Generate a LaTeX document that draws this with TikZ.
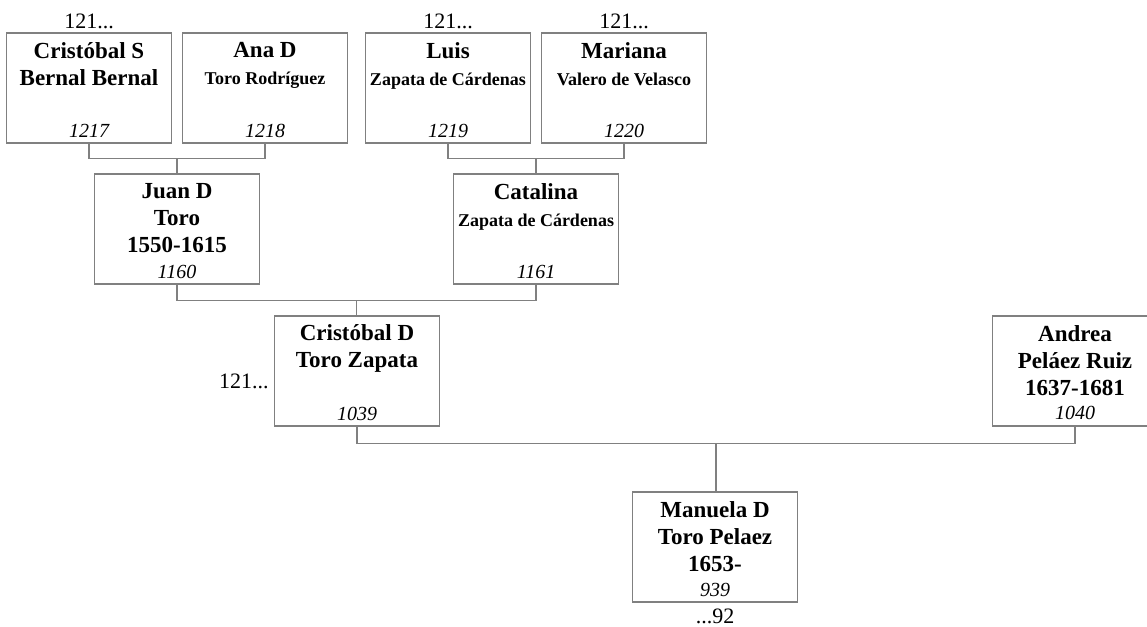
\documentclass[tikz,border=0pt]{standalone}
\usepackage{fontspec}
\setmainfont{Liberation Serif}
\usetikzlibrary{positioning, calc}

\definecolor{framegray}{RGB}{128,128,128}
\newcommand{\namefont}{\fontsize{23}{27}\bfseries\selectfont}
\newcommand{\surfont}{\fontsize{18}{25}\bfseries\selectfont}
\newcommand{\idfont}{\fontsize{20}{22}\itshape\selectfont}
\newcommand{\morefont}{\fontsize{22}{24}\selectfont}

\begin{document}
\begin{tikzpicture}[x=1pt, y=-1pt,
    person/.style={draw=framegray, line width=1.3pt, minimum width=165pt, minimum height=110pt, inner sep=0pt},
    pname/.style={font=\namefont, align=center, anchor=north, inner sep=0pt},
    pid/.style={font=\idfont, anchor=base, inner sep=0pt},
    more/.style={font=\morefont, inner sep=0pt},
    link/.style={draw=framegray, line width=1.3pt}]
    \useasboundingbox (0,0) rectangle (1147,626);

    % great-grandparents
    \node[person] (p1217) at (89,88) {};
    \node[person] (p1218) at (265,88) {};
    \node[person] (p1219) at (448,88) {};
    \node[person] (p1220) at (624,88) {};
    % grandparents
    \node[person] (p1160) at (177,229) {};
    \node[person] (p1161) at (536,229) {};
    % parents
    \node[person] (p1039) at (357,371) {};
    \node[person] (p1040) at (1075,371) {};
    % child
    \node[person] (p939) at (715,547) {};

    % names
    \node[pname, below=10pt of p1217.north] (n1217) {Cristóbal S\\Bernal Bernal};
    \node[pname, below=10pt of p1218.north] (n1218) {Ana D\\{\surfont Toro Rodríguez}};
    \node[pname, below=10pt of p1219.north] (n1219) {Luis\\{\surfont Zapata de Cárdenas}};
    \node[pname, below=10pt of p1220.north] (n1220) {Mariana\\{\surfont Valero de Velasco}};
    \node[pname, below=10pt of p1160.north] (n1160) {Juan D\\Toro\\1550-1615};
    \node[pname, below=10pt of p1161.north] (n1161) {Catalina\\{\surfont Zapata de Cárdenas}};
    \node[pname, below=9pt of p1039.north] (n1039) {Cristóbal D\\Toro Zapata};
    \node[pname, below=10pt of p1040.north] (n1040) {Andrea\\Peláez Ruiz\\1637-1681};
    \node[pname, below=10pt of p939.north] (n939) {Manuela D\\Toro Pelaez\\1653-};

    % numbers
    \node[pid] (i1217) at ($(p1217.south)+(0,-6)$) {1217};
    \node[pid] (i1218) at ($(p1218.south)+(0,-6)$) {1218};
    \node[pid] (i1219) at ($(p1219.south)+(0,-6)$) {1219};
    \node[pid] (i1220) at ($(p1220.south)+(0,-6)$) {1220};
    \node[pid] (i1160) at ($(p1160.south)+(0,-6)$) {1160};
    \node[pid] (i1161) at ($(p1161.south)+(0,-6)$) {1161};
    \node[pid] (i1039) at ($(p1039.south)+(0,-6)$) {1039};
    \node[pid] (i1040) at ($(p1040.south)+(0,-7)$) {1040};
    \node[pid] (i939) at ($(p939.south)+(0,-6)$) {939};

    % continuations
    \node[more, above=3pt of p1217.north] (c1217) {121...};
    \node[more, above=3pt of p1219.north] (c1219) {121...};
    \node[more, above=3pt of p1220.north] (c1220) {121...};
    \node[more, left=5pt of p1039.west, yshift=-10pt] (c1039) {121...};
    \node[more, below=6pt of p939.south] (c939) {...92};

    % family links
    \coordinate (m1) at ($(p1217.south)!0.5!(p1218.south)+(0,15)$);
    \coordinate (m2) at ($(p1219.south)!0.5!(p1220.south)+(0,15)$);
    \coordinate (m3) at ($(p1160.south)!0.5!(p1161.south)+(0,16)$);
    \coordinate (m4) at ($(p1039.south)!0.5!(p1040.south)+(0,17)$);
    \draw[link] (p1217.south) -- ++(0,15) -| (p1218.south);
    \draw[link] (m1) -- (m1 |- p1160.north);
    \draw[link] (p1219.south) -- ++(0,15) -| (p1220.south);
    \draw[link] (m2) -- (m2 |- p1161.north);
    \draw[link] (p1160.south) -- ++(0,16) -| (p1161.south);
    \draw[link] (m3) -- (m3 |- p1039.north);
    \draw[link] (p1039.south) -- ++(0,17) -| (p1040.south);
    \draw[link] (m4) -- (m4 |- p939.north);
\end{tikzpicture}
\end{document}
